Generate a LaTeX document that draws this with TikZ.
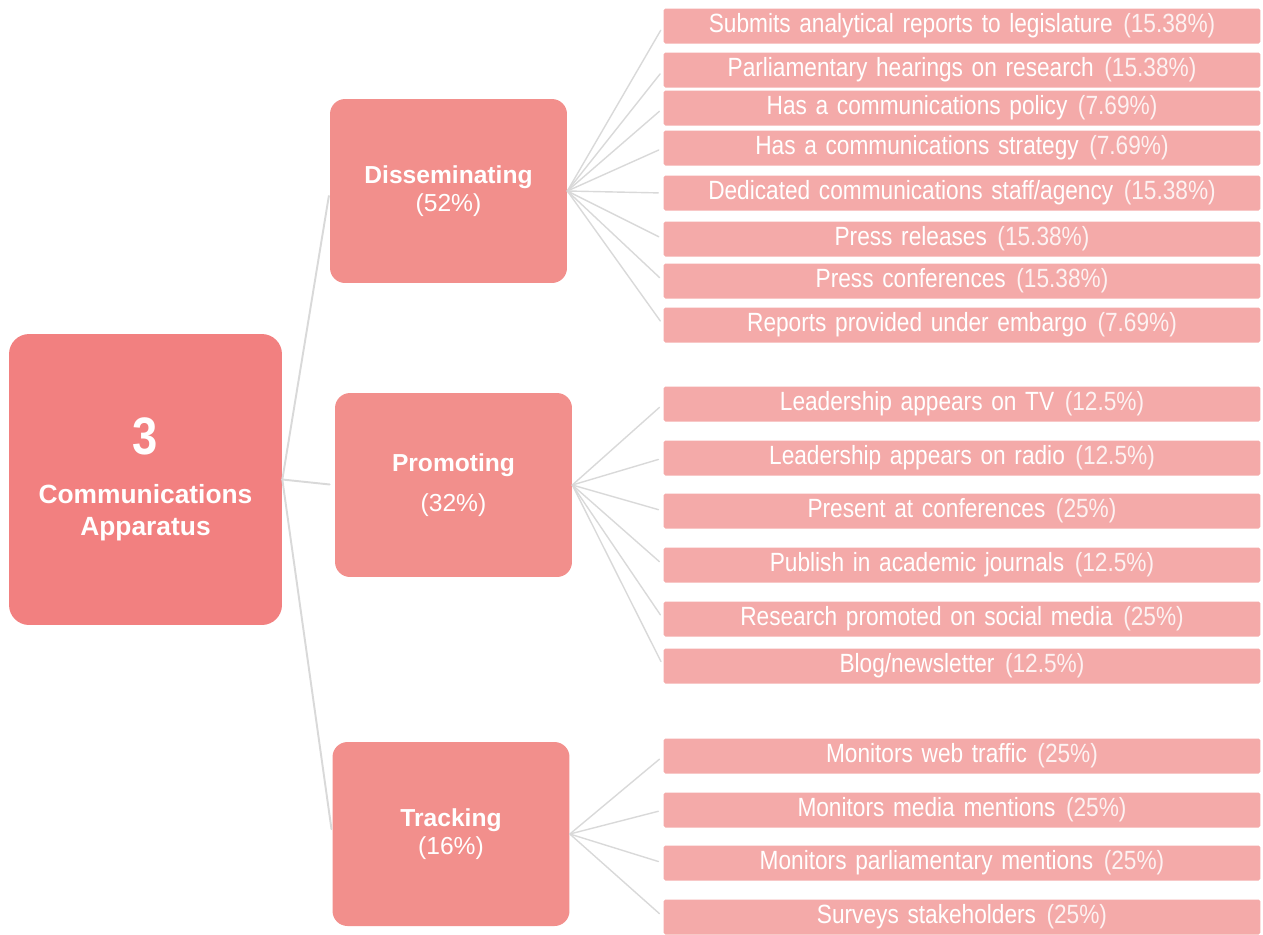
\documentclass[tikz,border=0pt]{standalone}
\usepackage{fontspec}
\setmainfont{Liberation Sans}
\newfontfamily\narrowfont{Liberation Sans}[FakeStretch=0.86]
\definecolor{rootcol}{HTML}{F28080}
\definecolor{catcol}{HTML}{F28F8C}
\definecolor{leafcol}{HTML}{F4AAA9}
\definecolor{twigcol}{HTML}{D9D9D9}
\newcommand{\widesp}{\spaceskip=0.33em plus 0.1em\relax}
\newcommand{\pct}[1]{\hspace{0.4em}{\color{white!85!leafcol}(#1\%)}}
\begin{document}
\begin{tikzpicture}[x=0.02cm,y=-0.02cm,line join=round,line cap=round]
	\tikzset{rootbox/.style={fill=rootcol,rounded corners=0.4cm,minimum width=5.46cm,minimum height=5.82cm,text=white,align=center,font=\fontsize{15}{18}\selectfont\bfseries},
		catbox/.style={fill=catcol,rounded corners=0.3cm,minimum width=4.74cm,minimum height=3.68cm,text=white,align=center,font=\fontsize{14}{16}\selectfont},
		leaf/.style={fill=leafcol,rounded corners=1pt,minimum width=11.94cm,minimum height=0.7cm,inner sep=0pt,text=white,font=\narrowfont\fontsize{15}{17}\selectfont},
		branch/.style={draw=twigcol,line width=1.1pt,shorten >=0.1cm},
		twig/.style={draw=twigcol,line width=0.8pt,shorten >=0.1cm}}
	\useasboundingbox (0,0) rectangle (1263,934);
	% root and categories
	\node[rootbox] (root) at (145.5,479.5) {{\narrowfont\fontsize{30}{32}\selectfont 3}\\[10pt]Communications\\Apparatus};
	\node[catbox] (dis) at (448.5,191) {\textbf{Disseminating}\\(52\%)};
	\node[catbox] (pro) at (453.5,485) {\textbf{Promoting}\\[7pt](32\%)};
	\node[catbox] (trk) at (451,834) {\textbf{Tracking}\\(16\%)};
	\foreach \c in {dis,pro,trk}
	\draw[branch] (root.east) -- (\c.west);
	% leaves
	\foreach \n/\y/\txt/\pc in {1/26/Submits analytical reports to legislature/15.38,
		2/70/Parliamentary hearings on research/15.38,
		3/108/Has a communications policy/7.69,
		4/148/Has a communications strategy/7.69,
		5/193/Dedicated communications staff\slash agency/15.38,
		6/239/Press releases/15.38,
		7/281/Press conferences/15.38,
		8/325/Reports provided under embargo/7.69}
	{\node[leaf] (dis\n) at (962,\y) {\widesp\txt\pct{\pc}};
		\draw[twig] (dis.east) -- (dis\n.west);}
	\foreach \n/\y/\txt/\pc in {1/404/Leadership appears on TV/12.5,
		2/458/Leadership appears on radio/12.5,
		3/511/Present at conferences/25,
		4/565/Publish in academic journals/12.5,
		5/619/Research promoted on social media/25,
		6/666/Blog\slash newsletter/12.5}
	{\node[leaf] (pro\n) at (962,\y) {\widesp\txt\pct{\pc}};
		\draw[twig] (pro.east) -- (pro\n.west);}
	\foreach \n/\y/\txt/\pc in {1/756/Monitors web traffic/25,
		2/810/Monitors media mentions/25,
		3/863/Monitors parliamentary mentions/25,
		4/917/Surveys stakeholders/25}
	{\node[leaf] (trk\n) at (962,\y) {\widesp\txt\pct{\pc}};
		\draw[twig] (trk.east) -- (trk\n.west);}
\end{tikzpicture}
\end{document}
